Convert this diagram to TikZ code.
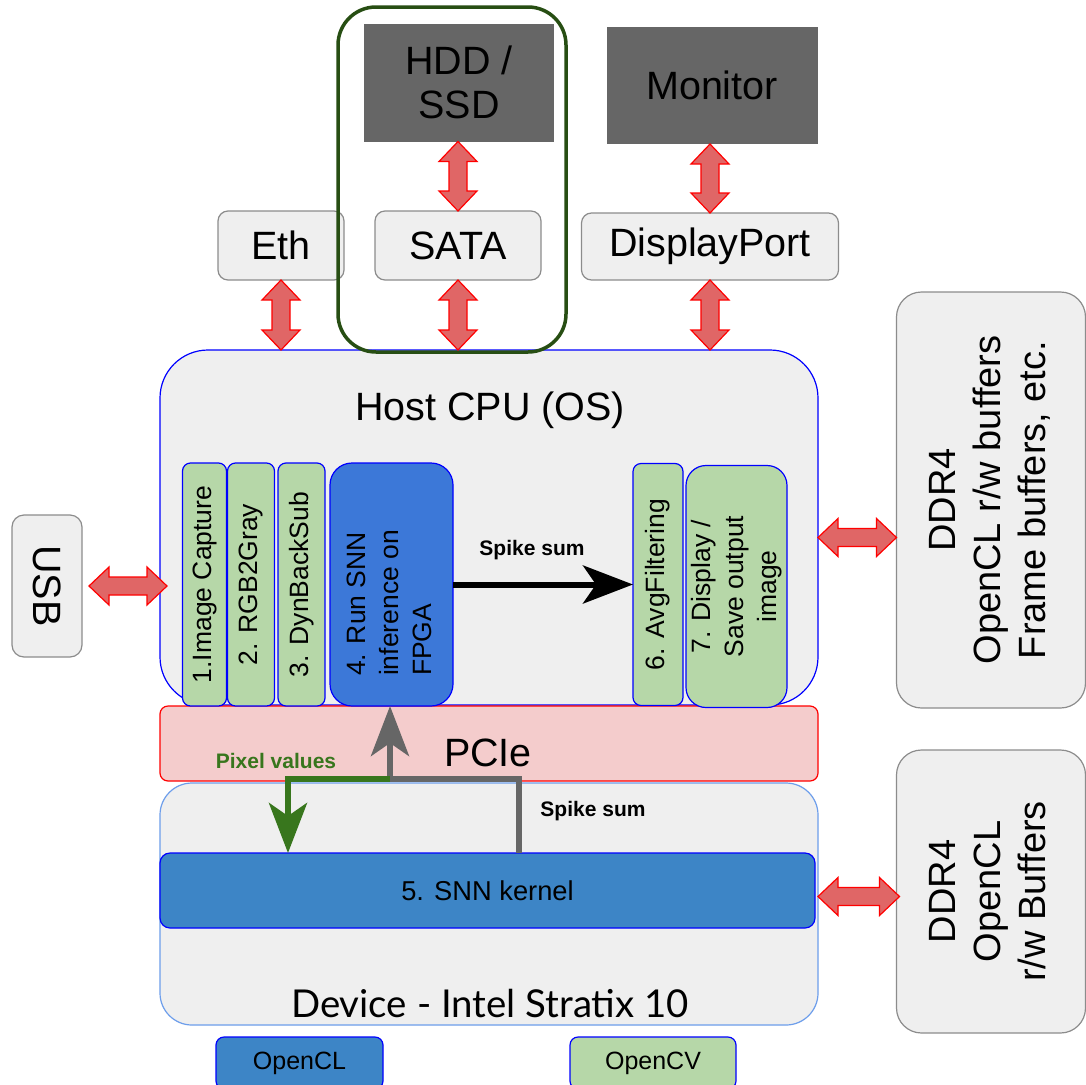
\documentclass[tikz,border=0pt]{standalone}
\usepackage{fontspec}
\setmainfont{Liberation Sans}
\newfontfamily\latofont{Lato}
\usetikzlibrary{calc,arrows.meta}
\definecolor{boxgray}{HTML}{EFEFEF}
\definecolor{darkbox}{HTML}{666666}
\definecolor{stepgreen}{HTML}{B6D7A8}
\definecolor{runblue}{HTML}{3C78D8}
\definecolor{kernblue}{HTML}{3D85C6}
\definecolor{pciefill}{HTML}{F4CCCC}
\definecolor{devborder}{HTML}{6D9EEB}
\definecolor{fatred}{HTML}{E06666}
\definecolor{outgreen}{HTML}{274E13}
\definecolor{arrgreen}{HTML}{38761D}
\definecolor{bordergray}{HTML}{8C8C8C}
\definecolor{pureblue}{HTML}{0000FF}
\newcommand\fbig{\fontsize{39.5}{44}\selectfont}
\newcommand\fddr{\fontsize{38}{45}\selectfont}
\newcommand\fstep{\fontsize{26.5}{33}\selectfont}
\newcommand\fsmall{\fontsize{21}{25}\selectfont\bfseries}
\newcommand\vtext[2][c]{\rotatebox{90}{\begin{tabular}{@{}#1@{}}#2\end{tabular}}}
\newcommand\fatV[2]{\path[fatarrow] let \p1=#1, \p2=#2, \n1={\y1-\y2} in (\x1,\y1) -- ++(19pt,-20pt) -- ++(-10pt,0pt) -- ++(0pt,{40pt-\n1}) -- ++(10pt,0pt) -- (\x1,\y2) -- ++(-19pt,20pt) -- ++(10pt,0pt) -- ++(0pt,{\n1-40pt}) -- ++(-10pt,0pt) -- cycle;}
\newcommand\fatH[2]{\path[fatarrow] let \p1=#1, \p2=#2, \n1={\x2-\x1} in (\x1,\y1) -- ++(20pt,19pt) -- ++(0pt,-10pt) -- ++({\n1-40pt},0pt) -- ++(0pt,10pt) -- (\x2,\y1) -- ++(-20pt,-19pt) -- ++(0pt,10pt) -- ++({40pt-\n1},0pt) -- ++(0pt,-10pt) -- cycle;}
\begin{document}
\begin{tikzpicture}[x=1pt,y=-1pt,
  base/.style={inner sep=0pt, outer sep=0pt, align=center},
  graybox/.style={base, draw=bordergray, fill=boxgray, line width=1.2pt, rounded corners=#1},
  graybox/.default=10pt,
  darkrect/.style={base, fill=darkbox, font=\fbig},
  stepbox/.style={base, draw=pureblue, fill=stepgreen, line width=1.2pt, rounded corners=#1, font=\fstep},
  stepbox/.default=8pt,
  bluebox/.style={base, draw=pureblue, line width=1.2pt, rounded corners=#1},
  fatarrow/.style={fill=fatred, draw=red, line width=1.2pt, line join=miter},
  tip/.style={-{Stealth[length=50pt,width=38pt,inset=13pt]}},
  flow/.style={line width=6pt, tip},
  lbl/.style={base, font=\fsmall}
]
\fill[white] (0,0) rectangle (1086,1084);
\useasboundingbox (0,0) rectangle (1086,1084);

% main containers
\node[base, draw=pureblue, fill=boxgray, line width=1.2pt, rounded corners=48pt,
      minimum width=658pt, minimum height=355pt] (host) at (489,527.5) {};
\node[base, font=\fbig] (hosttitle) at (490,410) {Host CPU (OS)};
\node[base, draw=red, fill=pciefill, line width=1.2pt, rounded corners=8pt,
      minimum width=658pt, minimum height=75pt] (pcie) at (489,743.5) {};
\node[base, font=\fbig] (pcietitle) at (488,753) {PCIe};
\node[base, draw=devborder, fill=boxgray, line width=1.2pt, rounded corners=32pt,
      minimum width=658pt, minimum height=242pt] (dev) at (489,904) {};
\node[base, font=\fontsize{38.4}{44}\selectfont\latofont] (devtitle) at (490,1003) {Device - Intel Stratix 10};
\node[bluebox=10pt, fill=kernblue, minimum width=655pt, minimum height=75pt,
      font=\fontsize{27.3}{31}\selectfont] (kernel) at (487.5,890.5) {5. SNN kernel};

% side boxes
\node[graybox=25pt, minimum width=189pt, minimum height=416pt, font=\fddr] (ddr1) at (991,500)
  {\vtext{DDR4\\OpenCL r/w buffers\\Frame buffers, etc.}};
\node[graybox=25pt, minimum width=189pt, minimum height=283pt, font=\fddr] (ddr2) at (991,891.5)
  {\vtext{DDR4\\OpenCL\\r/w Buffers}};
\node[graybox=12pt, minimum width=70pt, minimum height=142pt, font=\fbig] (usb) at (47,586)
  {\rotatebox{-90}{USB}};

% top boxes
\node[graybox, minimum width=126pt, minimum height=69pt, font=\fbig] (eth) at (281,245.5) {Eth};
\node[graybox, minimum width=166pt, minimum height=69pt, font=\fbig] (sata) at (458,245.5) {SATA};
\node[graybox, minimum width=257pt, minimum height=67pt, font=\fbig] (dp) at (710,246.5) {DisplayPort};
\node[darkrect, minimum width=190pt, minimum height=118pt] (hdd) at (459,82.5) {HDD /\\SSD};
\node[darkrect, minimum width=211pt, minimum height=117pt] (mon) at (712,85.5) {Monitor};
\node[base, draw=outgreen, line width=3.5pt, rounded corners=38pt,
      minimum width=228pt, minimum height=345pt] (storage) at (452,179.5) {};

% pipeline steps
\node[stepbox, minimum width=44pt, minimum height=243pt] (s1) at (204.5,584.5) {\vtext{1.Image Capture}};
\node[stepbox, minimum width=47pt, minimum height=243pt] (s2) at (251,584.5) {\vtext{2. RGB2Gray}};
\node[stepbox, minimum width=47pt, minimum height=243pt] (s3) at (301.5,584.5) {\vtext{3. DynBackSub}};
\node[bluebox=22pt, fill=runblue, minimum width=123pt, minimum height=243pt] (run) at (391.5,584.5) {};
\node[base, font=\fstep] (runtext) at (391.5,603) {\vtext[l]{4. Run SNN\\inference on\\FPGA}};
\node[stepbox, minimum width=50pt, minimum height=242pt] (s6) at (658,584.5) {\vtext{6. AvgFiltering}};
\node[stepbox=20pt, minimum width=101pt, minimum height=242pt] (s7) at (736.5,586.5) {\vtext{7. Display /\\Save output\\image}};

% fat bidirectional arrows
\fatV{(eth.south)}{(eth.south |- host.north)}
\fatV{(sata.north |- hdd.south)}{(sata.north)}
\fatV{(sata.south)}{(sata.south |- host.north)}
\fatV{(dp.north |- mon.south)}{(dp.north)}
\fatV{(dp.south)}{(dp.south |- host.north)}
\fatH{([xshift=7pt]usb.east)}{([xshift=7pt]usb.east -| host.west)}
\fatH{([yshift=-10pt]host.east)}{([yshift=-10pt]host.east -| ddr1.west)}
\fatH{([xshift=3pt,yshift=-6pt]kernel.east)}{([xshift=3pt,yshift=-6pt]kernel.east -| ddr2.west)}

% data flow
\coordinate (junc) at (390,779);
\coordinate (gcorner) at (519,779);
\coordinate (pcorner) at (288,779);
\draw[flow, draw=black] (run.east) -- (run.east -| s6.west);
\node[lbl] (ss1) at (532,550) {Spike sum};
\draw[flow, draw=darkbox] (kernel.north -| gcorner) -- (gcorner) -- (junc) -- (junc |- run.south);
\draw[flow, draw=arrgreen] (junc) -- (pcorner) -- (pcorner |- kernel.north);
\node[lbl, text=arrgreen] (pix) at (276,761) {Pixel values};
\node[lbl] (ss2) at (593,811) {Spike sum};

% legend
\node[bluebox=8pt, fill=kernblue, minimum width=167pt, minimum height=52pt,
      font=\fontsize{25}{30}\selectfont] (lcl) at (299.5,1063) {OpenCL};
\node[bluebox=8pt, fill=stepgreen, minimum width=166pt, minimum height=52pt,
      font=\fontsize{25}{30}\selectfont] (lcv) at (653,1063) {OpenCV};
\end{tikzpicture}
\end{document}
